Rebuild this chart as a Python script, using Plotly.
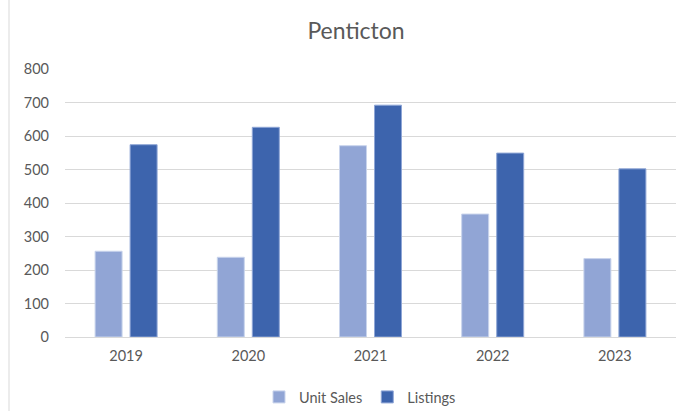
import plotly.graph_objects as go

years = ["2019", "2020", "2021", "2022", "2023"]
unit_sales = [256, 238, 571, 367, 234]
listings = [574, 626, 692, 549, 502]
y_ticks = [0, 100, 200, 300, 400, 500, 600, 700, 800]

FONT = "Lato, 'Open Sans', sans-serif"
TXT = "#595959"

fig = go.Figure()
fig.add_trace(go.Bar(x=years, y=unit_sales, name="Unit Sales",
                     marker=dict(color="#91A5D5", line=dict(color="#C9D4EC", width=1))))
fig.add_trace(go.Bar(x=years, y=listings, name="Listings",
                     marker=dict(color="#3D64AD", line=dict(color="#8FA6D6", width=1))))

fig.update_layout(
    width=686, height=411,
    margin=dict(l=65, r=10, t=69, b=74),
    paper_bgcolor="white", plot_bgcolor="white",
    barmode="group", bargap=0.427, bargroupgap=0.229,
    font=dict(family=FONT, color=TXT, size=14.5),
    title=dict(text="Penticton", x=356/686, xref="container", xanchor="center",
               y=1-31/411, yref="container", yanchor="middle",
               font=dict(size=23, color=TXT, family=FONT)),
    showlegend=True,
    legend=dict(orientation="h", xref="container", x=360/686, xanchor="center",
                yref="container", y=1-397/411, yanchor="middle",
                font=dict(size=14.5, color=TXT), itemwidth=30, traceorder="normal"),
    xaxis=dict(showgrid=False, showline=False, ticks="", ticklabelstandoff=8,
               tickfont=dict(size=14.5, color=TXT)),
    yaxis=dict(range=[0, 800], tickvals=y_ticks, showgrid=True, gridcolor="#D9D9D9",
               gridwidth=1, zeroline=True, zerolinecolor="#D9D9D9", zerolinewidth=1,
               showline=False, ticks="", ticklabelstandoff=15,
               tickfont=dict(size=14.5, color=TXT)),
)
fig.add_shape(type="line", xref="paper", yref="paper",
              x0=(9-65)/611, x1=(9-65)/611, y0=-74/268, y1=(411-74)/268,
              line=dict(color="#D9D9D9", width=1))
fig.write_html("out.html", config={"displayModeBar": False},
               post_script="document.body.style.margin='0';document.body.style.overflow='hidden';")
